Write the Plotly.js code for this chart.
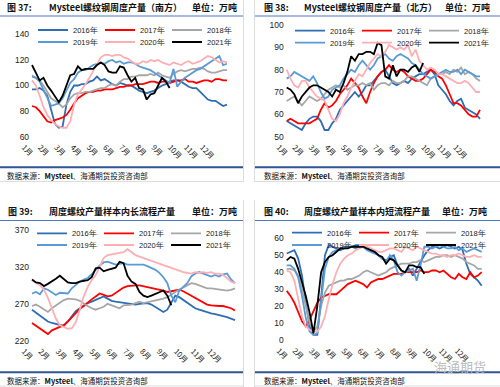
<!DOCTYPE html>
<html><head><meta charset="utf-8">
<script src="https://cdn.plot.ly/plotly-3.0.1.min.js"></script>
<style>html,body{margin:0;padding:0;background:#fff;}#chart{width:500px;height:387px;}</style>
</head><body><div id="chart"></div>
<script>
// ---------- labels ----------
const years = ['2016年','2017年','2018年','2019年','2020年','2021年'];
const monthLabels = ['1月','2月','3月','4月','5月','6月','7月','8月','9月','10月','11月','12月'];
const monthTickWeeks = [0,4.2,8.5,12.7,17,21.2,25.4,29.7,33.9,38.2,42.4,46.6];

// ---------- Fig 37: south (万吨) ----------
const south2016 = [97,97,98,96,92,82,70,67,68,85,95,100,100,101,101,103,104,107,104,105,103,101,100,102,101,100,100,98,96,95,94,95,96,98,100,101,103,104,104,103,101,99,98,98,95,92,89,88,88,86,84,85];
const south2017 = [84,83,80,76,72,71,73,74,75,77,81,86,90,92,94,95,95,96,96,97,97,97,98,99,99,100,100,101,101,101,102,103,103,102,103,103,102,103,104,104,105,103,103,102,103,104,104,103,105,105,104,104];
const south2018 = [108,106,104,100,95,90,88,86,83,85,90,93,94,94,95,95,96,97,98,98,100,101,100,103,105,105,107,107,108,108,108,109,108,110,108,107,106,109,111,112,111,112,113,113,114,113,111,110,110,111,112,112];
const south2019 = [107,106,103,97,90,84,85,86,90,96,102,105,110,112,112,114,116,117,118,117,119,120,118,119,117,118,118,117,115,114,113,112,110,108,106,104,102,113,99,103,106,108,110,112,113,115,117,119,121,123,116,117];
const south2020 = [104,100,92,83,77,73,70,68,67,67,72,85,93,97,101,106,111,117,122,124,124,123,124,124,122,121,119,117,117,119,118,120,119,120,118,117,116,118,117,116,118,119,117,118,119,121,123,122,120,118,119,118];
const south2021 = [116,110,104,106,100,96,91,87,92,100,108,109,115,112,113,113,113,116,118,116,111,110,110,115,114,108,103,106,98,97,89,93,94,100,106,103,98];

// ---------- Fig 38: north (万吨) ----------
const north2016 = [57,56,55,54,53,56,58,59,59,57,53,53,56,58,62,64,66,68,70,68,70,73,73,75,77,79,80,77,74,73,74,75,74,76,77,78,78,79,80,78,73,71,69,66,64,66,67,63,62,61,60,58];
const north2017 = [57,58,57,56,56,56,56,57,58,62,65,63,64,66,69,71,73,76,74,72,68,65,70,74,77,79,80,82,80,79,80,79,77,76,75,75,76,78,80,79,77,76,73,69,65,65,64,62,60,59,59,62];
const north2018 = [66,67,68,66,64,66,68,67,66,67,69,71,72,73,72,73,71,72,73,73,74,73,74,71,73,74,74,73,75,74,74,75,77,77,76,75,74,73,76,77,78,78,79,78,80,79,81,78,79,78,76,75];
const north2019 = [76,77,79,78,77,76,75,77,74,70,67,68,71,72,73,76,78,80,79,82,84,82,80,82,85,86,87,85,84,86,87,86,85,83,82,80,78,77,76,77,78,79,80,79,79,80,78,80,79,78,77,77];
const north2020 = [80,76,73,72,75,75,72,70,68,67,66,62,58,57,60,65,68,72,75,78,77,80,83,85,87,86,88,91,90,89,90,89,91,86,89,84,82,80,81,80,78,78,77,76,75,74,74,75,74,72,70,70];
const north2021 = [72,71,69,65,68,70,72,73,73,72,71,70,68,71,70,74,79,86,84,87,87,88,88,87,92,91,77,76,82,77,80,80,79,81,82,79,83];

// ---------- Fig 39: long-process (万吨) ----------
const long2016 = [262,258,254,250,246,244,243,242,240,246,253,260,264,268,271,273,275,278,280,277,274,273,272,271,270,269,269,270,271,271,269,266,262,259,262,272,281,279,275,271,267,264,262,260,258,257,256,255,253,252,250,248];
const long2017 = [244,240,236,232,229,234,236,238,241,246,252,258,263,267,272,276,280,284,282,280,281,285,289,292,294,295,295,295,294,293,292,291,290,288,286,287,288,289,287,284,280,277,274,271,269,268,267,267,267,266,264,261];
const long2018 = [267,269,266,262,259,264,268,272,275,277,277,276,274,270,267,264,262,264,266,270,268,265,264,268,268,269,271,273,271,272,273,274,275,277,279,283,286,289,292,295,298,297,295,292,291,291,290,289,289,288,289,291];
const long2019 = [284,286,283,291,289,286,282,285,285,284,291,296,300,303,305,310,316,322,326,327,325,323,324,325,323,323,322,322,323,321,319,316,312,306,298,281,272,288,293,298,307,311,313,311,308,307,309,307,310,311,303,298];
const long2020 = [302,299,295,289,278,264,250,241,238,236,237,245,262,280,293,302,309,320,332,336,337,338,338,340,344,340,336,334,332,330,328,326,324,323,321,319,316,314,313,312,311,313,312,313,312,313,311,311,309,305,300,298];
const long2021 = [303,299,298,294,297,300,304,308,303,299,298,298,300,301,302,306,318,319,314,316,317,319,327,325,308,300,297,286,281,279,281,283,285,288,281,268];

// ---------- Fig 40: short-process (万吨) ----------
const short2016 = [51,52,53,48,38,22,8,3,3,25,50,56,55,54,53,54,55,55,56,56,55,54,53,52,50,48,47,49,50,44,41,40,42,38,42,46,50,53,55,55,54,55,56,55,54,55,53,45,39,37,35,32];
const short2017 = [29,26,22,16,11,8,12,17,22,25,26,27,27,27,29,31,33,34,35,34,33,31,34,35,36,36,37,38,39,39,39,40,40,40,40,41,40,40,41,41,40,41,39,37,36,39,37,36,40,37,38,40];
const short2018 = [42,42,41,38,30,20,10,5,8,20,28,32,33,34,35,35,36,36,37,38,40,41,40,39,38,39,40,42,43,44,45,45,45,46,46,47,46,47,48,49,49,50,50,49,50,49,48,46,45,44,42,42];
const short2019 = [44,44,42,37,26,13,5,3,4,22,42,49,52,53,54,55,55,55,54,55,55,53,52,51,50,48,46,50,47,40,38,40,41,42,35,44,55,55,54,55,56,55,54,54,55,53,54,52,53,54,53,52];
const short2020 = [41,40,35,24,14,8,6,5,5,8,14,24,33,40,45,48,50,51,53,54,55,55,54,53,52,52,53,54,54,53,52,55,54,53,55,54,53,52,51,51,50,50,49,50,50,51,50,49,49,50,49,49];
const short2021 = [47,49,48,42,34,26,16,4,20,40,46,49,50,52,54,54,54,55,55,55,55,54,53,52,50,49,45,48,47,44,41,40,44,44,43,43,39];

// ---------- styling / layout ----------
const colors = ['#2F6EB5','#FF0000','#A6A6A6','#5B9BD5','#FFAFB4','#000000'];
const W = 500, H = 387;
const px = v => v / W;
const py = v => 1 - v / H;
const numFont = 'Liberation Sans, Arial, sans-serif';
const cjkFont = 'Noto Sans CJK SC, sans-serif';

const panels = [
  {series:[south2016,south2017,south2018,south2019,south2020,south2021], xk:'x', yk:'y', xdom:[30.1,228.9], ydom:[34.3,136.7], yr:[60,140], dt:20, leg:['legend','legend2'], legX:33, legY:[30,42]},
  {series:[north2016,north2017,north2018,north2019,north2020,north2021], xk:'x2', yk:'y2', xdom:[284.8,481.9], ydom:[25,136.7], yr:[50,100], dt:10, leg:['legend3','legend4'], legX:290, legY:[30.7,42.7]},
  {series:[long2016,long2017,long2018,long2019,long2020,long2021], xk:'x3', yk:'y3', xdom:[30,237], ydom:[230,340.7], yr:[220,370], dt:50, leg:['legend5','legend6'], legX:32, legY:[233.3,245]},
  {series:[short2016,short2017,short2018,short2019,short2020,short2021], xk:'x4', yk:'y4', xdom:[284.8,483.6], ydom:[238.3,340], yr:[0,60], dt:10, leg:['legend7','legend8'], legX:287, legY:[232.7,245]}
];

const traces = [];
const layout = {
  width: W, height: H, margin:{l:0,r:0,t:0,b:0}, paper_bgcolor:'#fff', plot_bgcolor:'rgba(0,0,0,0)',
  showlegend: true, shapes: [], annotations: []
};

panels.forEach((p, pi) => {
  p.series.forEach((s, k) => {
    traces.push({
      type:'scatter', mode:'lines', name: years[k],
      x: s.map((_, i) => i), y: s,
      xaxis: p.xk, yaxis: p.yk,
      legend: k < 3 ? p.leg[0] : p.leg[1],
      line:{color: colors[k], width: 1.8}, hoverinfo:'skip'
    });
  });
  const xn = pi === 0 ? 'xaxis' : 'xaxis' + (pi + 1);
  const yn = pi === 0 ? 'yaxis' : 'yaxis' + (pi + 1);
  layout[xn] = {
    domain:[px(p.xdom[0]), px(p.xdom[1])], range:[-0.5, 51.5], anchor: p.yk,
    showgrid:false, zeroline:false, showline:false, ticks:'',
    tickmode:'array', tickvals: monthTickWeeks, ticktext: monthLabels,
    tickangle: 45, tickfont:{family: cjkFont, size: 7.5, color:'#222'},
    ticklabelshift: -8, ticklabelstandoff: 4, fixedrange:true
  };
  layout[yn] = {
    domain:[py(p.ydom[1]), py(p.ydom[0])], range: p.yr, anchor: p.xk,
    showgrid:false, zeroline:false, showline:false, ticks:'',
    dtick: p.dt, tick0: p.yr[0], tickfont:{family: numFont, size: 8.5, color:'#222'}, fixedrange:true
  };
  p.leg.forEach((ln, r) => {
    layout[ln] = {
      orientation:'h', x: px(p.legX), y: py(p.legY[r]), xanchor:'left', yanchor:'middle',
      bgcolor:'rgba(0,0,0,0)', borderwidth:0, font:{family: numFont, size: 7.5, color:'#222'},
      entrywidth: 22, entrywidthmode:'pixels', itemwidth: 30, tracegroupgap: 0
    };
  });
});

// frame lines
const hline = (x0, x1, y, color, w) => ({type:'line', xref:'paper', yref:'paper', x0:px(x0), x1:px(x1), y0:py(y), y1:py(y), line:{color, width:w}});
const vline = (x, y0, y1, color, w) => ({type:'line', xref:'paper', yref:'paper', x0:px(x), x1:px(x), y0:py(y0), y1:py(y1), line:{color, width:w}});
[[0,243],[255,500]].forEach(([a,b]) => {
  layout.shapes.push(hline(a, b, 16, '#4A78C0', 1));
  layout.shapes.push(hline(a, b, 220.5, '#4A78C0', 1));
  layout.shapes.push(hline(a, b, 167.3, '#2F5597', 2));
  layout.shapes.push(hline(a, b, 372.3, '#2F5597', 2));
  layout.shapes.push(hline(a, b, 181.5, '#DDDDDD', 1));
  layout.shapes.push(hline(a, b, 386, '#DDDDDD', 1));
});
[243.5, 254.5].forEach(x => {
  layout.shapes.push(vline(x, 0, 182, '#DDDDDD', 1));
  layout.shapes.push(vline(x, 200, 387, '#DDDDDD', 1));
});

// titles & notes
const ann = (text, x, y, size, extra) => Object.assign({text, x:px(x), y:py(y), xref:'paper', yref:'paper', xanchor:'left', yanchor:'middle', showarrow:false, font:{family: cjkFont, size, color:'#111'}}, extra || {});
[
  ['图 37:', 5, 7.5], ['Mysteel螺纹钢周度产量（南方）', 47, 7.5], ['单位：万吨', 190, 7.5],
  ['图 38:', 262, 7.5], ['Mysteel螺纹钢周度产量（北方）', 302, 7.5], ['单位：万吨', 443, 7.5],
  ['图 39:', 6, 211], ['周度螺纹产量样本内长流程产量', 47, 211], ['单位：万吨', 190, 211],
  ['图 40:', 262, 211], ['周度螺纹产量样本内短流程产量', 302, 211], ['单位：万吨', 440, 211]
].forEach(t => layout.annotations.push(ann(t[0], t[1], t[2], 9, {font:{family: cjkFont, size: 9, color:'#111', weight:'bold'}})));
[[5,175.5],[262,175.5],[5,380.5],[262,380.5]].forEach(([x,y]) =>
  layout.annotations.push(ann('数据来源：<b>Mysteel</b>、海通期货投资咨询部', x, y, 7.5)));
layout.annotations.push(ann('海通期货', 432, 366, 13, {font:{family: cjkFont, size:13, color:'#BDBDBD'}}));

Plotly.newPlot('chart', traces, layout, {staticPlot:true, displayModeBar:false});
</script></body></html>
